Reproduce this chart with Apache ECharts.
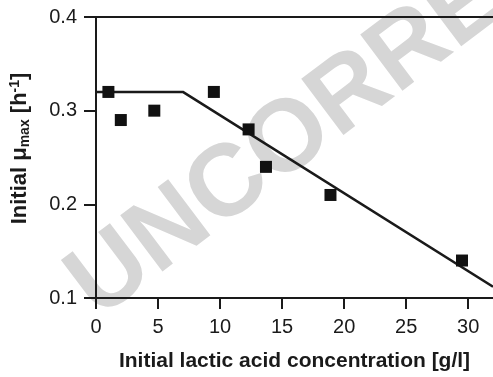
<!DOCTYPE html>
<html>
<head>
<meta charset="utf-8">
<style>
  html, body { margin: 0; padding: 0; background: #fff; }
  #chart { width: 493px; height: 377px; }
</style>
<script src="https://cdn.jsdelivr.net/npm/echarts@6/dist/echarts.min.js"></script>
</head>
<body>
<div id="chart"></div>
<script>
// measured points (lactic acid g/l, initial mu max 1/h)
var acidConc = [1, 2, 4.7, 9.5, 12.3, 13.7, 18.9, 29.5];
var muMax = [0.32, 0.29, 0.30, 0.32, 0.28, 0.24, 0.21, 0.14];

// fitted model: plateau then linear decline
var fitX = [0, 7, 32];
var fitY = [0.32, 0.32, 0.112];

var xTicks = [0, 5, 10, 15, 20, 25, 30];
var yTicks = [0.1, 0.2, 0.3, 0.4];

var pointData = acidConc.map(function (x, i) { return [x, muMax[i]]; });
var fitData = fitX.map(function (x, i) { return [x, fitY[i]]; });

var chart = echarts.init(document.getElementById("chart"));

var font = "Liberation Sans, Arial, sans-serif";
var ink = "#1a1a1a";

chart.setOption({
  animation: false,
  backgroundColor: "#fff",
  grid: { left: 96, right: 0, top: 17, bottom: 79 },
  graphic: [
    {
      type: "text",
      z: -10,
      x: 112,
      y: 338,
      rotation: 37 * Math.PI / 180,
      style: {
        text: "UNCORRECTED",
        font: "bold 102px Liberation Sans, Arial, sans-serif",
        fill: "#d6d6d6",
        textAlign: "left",
        textVerticalAlign: "bottom"
      }
    }
  ],
  xAxis: [
    {
      type: "value",
      min: 0,
      max: 32,
      interval: 5,
      name: "Initial lactic acid concentration [g/l]",
      nameLocation: "middle",
      nameGap: 53,
      nameTextStyle: { fontFamily: font, fontWeight: "bold", fontSize: 21, color: ink },
      axisLine: { lineStyle: { color: ink, width: 2 } },
      axisTick: { inside: false, length: 11, lineStyle: { color: ink, width: 2 }, customValues: xTicks },
      axisLabel: { fontFamily: font, fontSize: 20, color: ink, margin: 19, customValues: xTicks },
      splitLine: { show: false }
    },
    {
      type: "value",
      position: "top",
      min: 0,
      max: 32,
      axisLine: { show: true, lineStyle: { color: ink, width: 2 } },
      axisTick: { show: false },
      axisLabel: { show: false },
      splitLine: { show: false }
    }
  ],
  yAxis: {
    type: "value",
    min: 0.1,
    max: 0.4,
    interval: 0.1,
    name: "{b|Initial μ}{sub|max}{b| [h}{sup|-1}{b|]}",
    nameLocation: "middle",
    nameGap: 64,
    nameRotate: 90,
    nameTextStyle: {
      padding: [0, 0, 0, 18],
      rich: {
        b: { fontFamily: font, fontWeight: "bold", fontSize: 22, color: ink },
        sub: { fontFamily: font, fontWeight: "bold", fontSize: 14, color: ink, verticalAlign: "bottom", padding: [10, 0, 0, 0] },
        sup: { fontFamily: font, fontWeight: "bold", fontSize: 14, color: ink, verticalAlign: "top", padding: [0, 0, 10, 0] }
      }
    },
    axisLine: { show: true, lineStyle: { color: ink, width: 2 } },
    axisTick: { inside: false, length: 12, lineStyle: { color: ink, width: 2 }, customValues: yTicks },
    axisLabel: {
      fontFamily: font, fontSize: 20, color: ink, margin: 19,
      customValues: yTicks,
      formatter: function (v) { return v.toFixed(1); }
    },
    splitLine: { show: false }
  },
  series: [
    {
      name: "fit",
      type: "line",
      data: fitData,
      showSymbol: false,
      symbol: "none",
      lineStyle: { color: ink, width: 2.5 },
      z: 2
    },
    {
      name: "measured",
      type: "scatter",
      data: pointData,
      symbol: "rect",
      symbolSize: 12,
      itemStyle: { color: "#111", opacity: 1 },
      z: 3
    }
  ]
});
</script>
</body>
</html>
